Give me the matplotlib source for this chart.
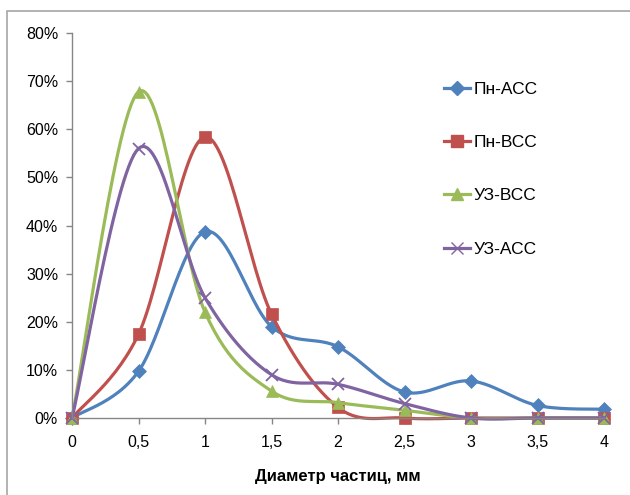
import numpy as np
import matplotlib
matplotlib.use("Agg")
from matplotlib import pyplot as plt
from matplotlib.patches import Rectangle
from matplotlib.ticker import FuncFormatter

plt.rcParams['font.family'] = ['Liberation Sans', 'DejaVu Sans']

# data (percent)
diam = [0, 0.5, 1, 1.5, 2, 2.5, 3, 3.5, 4]
pn_acc = [0, 9.7, 38.7, 19.0, 14.8, 5.4, 7.7, 2.6, 1.8]
pn_vcc = [0, 17.4, 58.4, 21.6, 2.2, 0, 0, 0, 0]
uz_vcc = [0, 67.8, 22.0, 5.6, 3.2, 1.6, 0, 0, 0]
uz_acc = [0, 56.0, 25.0, 9.0, 7.0, 3.0, 0, 0, 0]
names = ['Пн-АСС', 'Пн-ВСС', 'УЗ-ВСС', 'УЗ-АСС']


def smooth(x, y, n=30):
    # Catmull-Rom style bezier, like Excel "smoothed line"
    x = np.asarray(x, float)
    y = np.asarray(y, float)
    px = np.concatenate([[x[0]], x, [x[-1]]])
    py = np.concatenate([[y[0]], y, [y[-1]]])
    xs, ys = [], []
    t = np.linspace(0, 1, n)
    for i in range(1, len(px) - 2):
        p0 = np.array([px[i], py[i]])
        p3 = np.array([px[i + 1], py[i + 1]])
        c1 = p0 + (np.array([px[i + 1], py[i + 1]]) - np.array([px[i - 1], py[i - 1]])) / 6
        c2 = p3 - (np.array([px[i + 2], py[i + 2]]) - np.array([px[i], py[i]])) / 6
        b = ((1 - t) ** 3)[:, None] * p0 + (3 * (1 - t) ** 2 * t)[:, None] * c1 \
            + (3 * (1 - t) * t ** 2)[:, None] * c2 + (t ** 3)[:, None] * p3
        xs.extend(b[:, 0])
        ys.extend(b[:, 1])
    return xs, ys


fig = plt.figure(figsize=(6.3, 4.95), dpi=100)
fig.patches.append(Rectangle((7 / 630, -0.1), 1.2, 1 - 11 / 495 + 0.1,
                             transform=fig.transFigure, fill=False,
                             edgecolor='#a6a6a6', linewidth=1.2))
ax = fig.add_axes([72 / 630, 77 / 495, 532 / 630, 385 / 495])

series = [pn_acc, pn_vcc, uz_vcc, uz_acc]
colors = ['#4F81BD', '#C0504D', '#9BBB59', '#8064A2']
markers = ['D', 's', '^', 'x']
msizes = [7, 8.5, 8.5, 8.5]
for vals, c, m, ms, name in zip(series, colors, markers, msizes, names):
    sx, sy = smooth(diam, vals)
    ax.plot(sx, sy, color=c, linewidth=2.3, solid_capstyle='round', clip_on=False)
    ax.plot(diam, vals, linestyle='none', marker=m, color=c, markersize=ms,
            markeredgewidth=1.3 if m == 'x' else 0.5, clip_on=False)
    ax.plot([], [], color=c, linewidth=2.3, marker=m, markersize=ms, label=name)

ax.set_xlim(0, 4)
ax.set_ylim(0, 80)
ax.set_xticks(diam)
ax.set_xticklabels([str(v).replace('.', ',').replace(',0', '') for v in diam])
ax.set_yticks(range(0, 81, 10))
ax.yaxis.set_major_formatter(FuncFormatter(lambda v, p: f"{int(v)}%"))
for s in ['top', 'right']:
    ax.spines[s].set_visible(False)
for s in ['left', 'bottom']:
    ax.spines[s].set_color('#868686')
    ax.spines[s].set_linewidth(1.0)
ax.tick_params(colors='#868686', labelcolor='black', labelsize=11.5, length=4, width=1)
ax.tick_params(axis='y', pad=6)
ax.tick_params(axis='x', pad=8)
ax.set_xlabel("Диаметр частиц, мм", fontsize=12, fontweight='bold', labelpad=14)

ax.legend(loc='upper left', bbox_to_anchor=(428 / 630, 1 - 66 / 495),
          bbox_transform=fig.transFigure, frameon=False, fontsize=12.5,
          labelspacing=2.2, handlelength=1.5, handletextpad=0.2)

plt.savefig("out.png", dpi=100)
